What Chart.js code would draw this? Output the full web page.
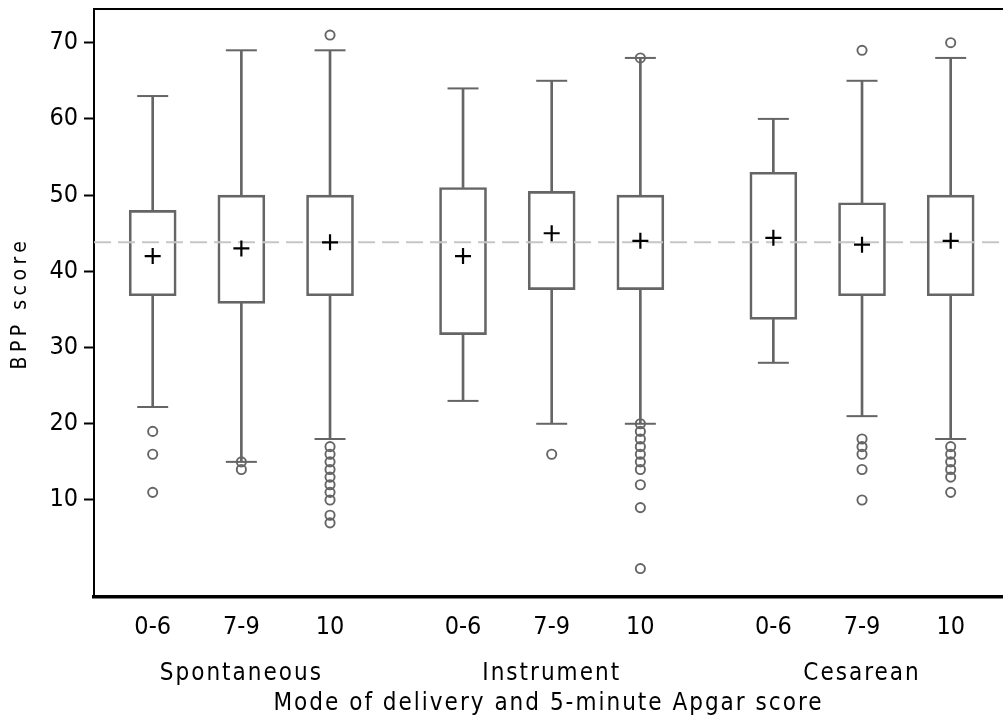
<!DOCTYPE html>
<html><head><meta charset="utf-8">
<script src="https://cdn.jsdelivr.net/npm/chart.js@4"></script>
<style>html,body{margin:0;padding:0;background:#fff}#wrap{width:1003px;height:722px;position:relative}canvas{display:block}</style>
</head><body><div id="wrap"><canvas id="c" width="1003" height="722" style="width:1003px;height:722px"></canvas></div>
<script>
// ---- data ----
const groups = ['Spontaneous', 'Instrument', 'Cesarean'];
const apgarLabels = ['0-6', '7-9', '10'];
// boxes in order: Spontaneous 0-6, 7-9, 10 | Instrument 0-6, 7-9, 10 | Cesarean 0-6, 7-9, 10
const whiskerLow  = [22.2, 15, 18, 23, 20, 20, 28, 21, 18];
const q1          = [36.8, 35.8, 36.8, 31.7, 37.6, 37.6, 33.7, 36.8, 36.8];
const q3          = [48, 50, 50, 51, 50.5, 50, 53, 49, 50];
const whiskerHigh = [63, 69, 69, 64, 65, 68, 60, 65, 68];
const means       = [42, 43, 43.8, 42, 45, 44, 44.4, 43.5, 44];
const outliers    = [
  [19, 16, 11], [15, 14], [71, 17, 16, 15, 14, 13, 12, 11, 10, 8, 7],
  [], [16], [68, 20, 19, 18, 17, 16, 15, 14, 12, 9, 1],
  [], [69, 18, 17, 16, 14, 10], [70, 17, 16, 15, 14, 13, 11]
];
const overallMean = 43.8;
const yTicks = [10, 20, 30, 40, 50, 60, 70];
const yTitle = 'BPP score';
const xTitle = 'Mode of delivery and 5-minute Apgar score';

// ---- layout helpers ----
const groupGap = 0.5;
const pos = [];
const tickLabels = [];
groups.forEach((g, gi) => apgarLabels.forEach((a, ai) => {
  pos.push(gi * (apgarLabels.length + groupGap) + ai);
  tickLabels.push(a);
}));
const groupCenters = groups.map((g, gi) => gi * (apgarLabels.length + groupGap) + (apgarLabels.length - 1) / 2);
const X_MIN = -0.662, X_MAX = 9.59;
const Y_MIN = -2.73, Y_MAX = 74.42;

const GRAY = '#656565';
const FONT = "'DejaVu Sans Condensed', 'DejaVu Sans', sans-serif";

const boxData = pos.map((x, i) => ({x, y: [q1[i], q3[i]]}));
const upperWhisker = pos.map((x, i) => ({x, y: [q3[i], whiskerHigh[i]]}));
const lowerWhisker = pos.map((x, i) => ({x, y: [whiskerLow[i], q1[i]]}));
const caps = [];
pos.forEach((x, i) => { caps.push({x, y: whiskerHigh[i]}); caps.push({x, y: whiskerLow[i]}); });
const meanPts = pos.map((x, i) => ({x, y: means[i]}));
const outPts = [];
pos.forEach((x, i) => outliers[i].forEach(v => outPts.push({x, y: v})));

const letterSpacing = {
  y: {title: '4.5px'},
  xg: {title: '2px', labels: '2px'}
};
const spacingPlugin = {
  id: 'spacing',
  beforeDraw(chart) {
    Object.entries(chart.scales).forEach(([id, s]) => {
      if (s._spWrapped) return;
      const sp = letterSpacing[id];
      if (sp) {
        const wrap = (name, val) => {
          const orig = s[name];
          s[name] = function (...args) {
            const c = this.ctx; c.save(); c.letterSpacing = val;
            const r = orig.apply(this, args); c.restore(); return r;
          };
        };
        if (sp.title) wrap('drawTitle', sp.title);
        if (sp.labels) wrap('drawLabels', sp.labels);
      }
      s._spWrapped = true;
    });
  }
};
const noPad = s => { s.paddingLeft = 0; s.paddingRight = 0; s.paddingTop = 0; s.paddingBottom = 0; };

new Chart(document.getElementById('c'), {
  type: 'bar',
  data: {
    datasets: [
      {type: 'scatter', label: 'mean', data: meanPts, pointStyle: 'cross', pointRadius: 8,
       borderColor: '#000', borderWidth: 2.2, backgroundColor: '#000'},
      {type: 'scatter', label: 'outliers', data: outPts, pointStyle: 'circle', pointRadius: 4.6,
       borderColor: GRAY, borderWidth: 1.9, backgroundColor: 'rgba(0,0,0,0)'},
      {type: 'line', label: 'overall', data: [{x: X_MIN, y: overallMean}, {x: X_MAX, y: overallMean}],
       borderColor: '#c6c6c6', borderWidth: 2, borderDash: [17, 7], pointRadius: 0, fill: false},
      {type: 'scatter', label: 'caps', data: caps, pointStyle: 'line', pointRadius: 15.5,
       borderColor: GRAY, borderWidth: 2},
      {type: 'bar', label: 'box', data: boxData, barThickness: 47, grouped: false,
       borderSkipped: false, borderColor: GRAY, borderWidth: 2, backgroundColor: 'rgba(0,0,0,0)'},
      {type: 'bar', label: 'upper', data: upperWhisker, barThickness: 2, grouped: false,
       borderWidth: 0, backgroundColor: GRAY},
      {type: 'bar', label: 'lower', data: lowerWhisker, barThickness: 2, grouped: false,
       borderWidth: 0, backgroundColor: GRAY}
    ]
  },
  options: {
    responsive: false,
    animation: false,
    events: [],
    layout: {padding: 0, autoPadding: false},
    plugins: {legend: {display: false}, tooltip: {enabled: false}},
    scales: {
      x: {
        type: 'linear', position: 'bottom', min: X_MIN, max: X_MAX, offset: false, weight: 0,
        grid: {display: false, drawTicks: false, offset: false},
        border: {display: true, color: '#000', width: 3.5},
        afterBuildTicks: s => { s.ticks = pos.map(v => ({value: v})); },
        afterFit: s => { s.height = 50; noPad(s); },
        ticks: {autoSkip: false, maxRotation: 0, padding: 15, color: '#000',
                font: {family: FONT, size: 25}, callback: (v, i) => tickLabels[i]}
      },
      xg: {
        type: 'linear', position: 'bottom', min: X_MIN, max: X_MAX, offset: false, weight: 1,
        grid: {display: false, drawTicks: false},
        border: {display: false},
        afterBuildTicks: s => { s.ticks = groupCenters.map(v => ({value: v})); },
        afterFit: s => { s.height = 75; noPad(s); },
        ticks: {autoSkip: false, maxRotation: 0, padding: 12, color: '#000',
                font: {family: FONT, size: 24}, callback: (v, i) => groups[i]},
        title: {display: true, text: xTitle, color: '#000', font: {family: FONT, size: 24},
                padding: {top: 0, bottom: 3.5}}
      },
      xt: {
        type: 'linear', position: 'top', min: X_MIN, max: X_MAX,
        grid: {display: false, drawTicks: false},
        border: {display: true, color: '#000', width: 2},
        ticks: {display: false},
        afterFit: s => { s.height = 9; noPad(s); }
      },
      y: {
        type: 'linear', position: 'left', min: Y_MIN, max: Y_MAX,
        afterBuildTicks: s => { s.ticks = yTicks.map(v => ({value: v})); },
        afterFit: s => { s.width = 94; noPad(s); },
        grid: {display: true, drawOnChartArea: false, drawTicks: true, tickLength: 10,
               tickWidth: 2, tickColor: '#000'},
        border: {display: true, color: '#000', width: 2},
        ticks: {padding: 6, color: '#000', font: {family: FONT, size: 25}},
        title: {display: true, text: yTitle, color: '#000', font: {family: FONT, size: 21},
                padding: {top: 8.4, bottom: 0}}
      }
    }
  },
  plugins: [spacingPlugin]
});
</script>
</body></html>
